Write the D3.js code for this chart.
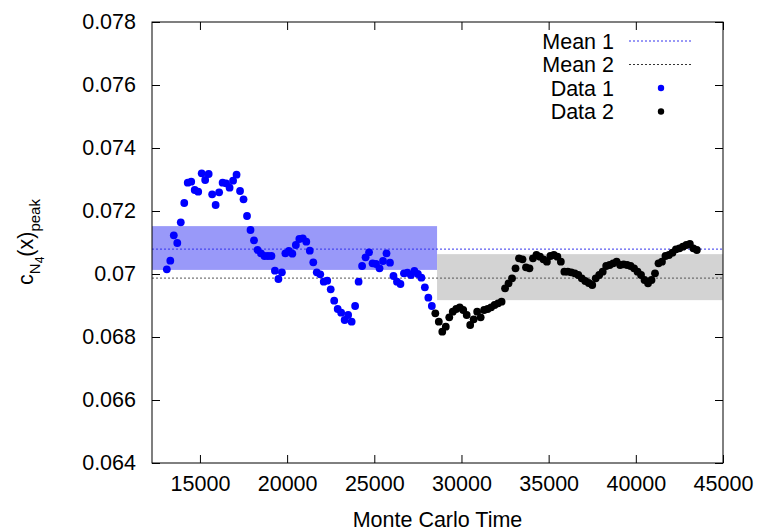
<!DOCTYPE html>
<html>
<head>
<meta charset="utf-8">
<script src="https://cdn.jsdelivr.net/npm/d3@7"></script>
<style>
  body { margin: 0; background: #fff; }
  text { font-family: "Liberation Sans", Arial, sans-serif; fill: #000; }
</style>
</head>
<body>
<svg id="chart" width="761" height="532"></svg>
<script>
// Sampling grid of Monte Carlo time
const start1 = 13100, start2 = 28500, step = 200;

const data1 = [70.149,70.422,71.229,70.984,71.641,72.254,72.898,72.930,72.667,72.613,
  73.197,72.984,73.175,72.530,72.190,72.594,72.898,72.879,72.740,72.962,
  73.152,72.635,72.371,71.841,71.397,71.070,70.762,70.657,70.571,70.571,
  70.571,70.105,69.841,70.054,70.657,70.730,70.644,70.921,71.111,71.133,
  71.025,70.740,70.371,70.054,69.990,69.756,69.787,69.514,69.152,68.889,
  68.771,68.540,68.698,68.486,68.984,69.756,70.254,70.530,70.689,70.340,
  70.317,70.181,70.413,70.657,70.359,69.937,69.756,69.683,70.022,70.041,
  69.968,70.095,70.000,69.883,69.578,69.248,68.984].map(v => v / 1000);

const data2 = [68.752,68.486,68.168,68.327,68.625,68.803,68.889,68.943,68.857,68.698,
  68.381,68.562,68.803,68.625,68.857,68.889,68.943,69.016,69.070,69.121,
  69.546,69.705,69.863,70.181,70.498,70.467,70.213,70.181,70.498,70.603,
  70.549,70.467,70.390,70.571,70.603,70.549,70.390,70.073,70.073,70.054,
  70.022,69.968,69.863,69.778,69.714,69.651,69.863,69.968,70.073,70.254,
  70.286,70.340,70.390,70.286,70.308,70.286,70.254,70.181,70.073,69.968,
  69.810,69.705,69.810,70.022,70.340,70.390,70.571,70.603,70.676,70.784,
  70.816,70.867,70.921,70.952,70.816,70.762].map(v => v / 1000);

const mean1 = 0.07079, mean2 = 0.06987;
const band1 = [0.07013, 0.07152], band2 = [0.06917, 0.07063];
const split = 28600;
const xTicks = [15000, 20000, 25000, 30000, 35000, 40000, 45000];
const yTicks = [0.064, 0.066, 0.068, 0.07, 0.072, 0.074, 0.076, 0.078];

const series1 = data1.map((v, i) => ({ t: start1 + step * i, v }));
const series2 = data2.map((v, i) => ({ t: start2 + step * i, v }));

const margin = { left: 152, right: 38, top: 22, bottom: 69 };
const W = 761, H = 532;
const FS = "21.5px";
const svg = d3.select("#chart");

const x = d3.scaleLinear().domain([12250, 45000]).range([margin.left, W - margin.right]);
const y = d3.scaleLinear().domain([0.064, 0.078]).range([H - margin.bottom, margin.top]);

// bands
svg.append("rect").attr("x", x(12250)).attr("width", x(split) - x(12250))
  .attr("y", y(band1[1])).attr("height", y(band1[0]) - y(band1[1])).attr("fill", "#9999f9");
svg.append("rect").attr("x", x(split)).attr("width", x(45000) - x(split))
  .attr("y", y(band2[1])).attr("height", y(band2[0]) - y(band2[1])).attr("fill", "#d3d3d3");

// mean lines
svg.append("line").attr("x1", x(12250)).attr("x2", x(45000)).attr("y1", y(mean1)).attr("y2", y(mean1))
  .attr("stroke", "#3333ee").attr("stroke-width", 1).attr("stroke-dasharray", "2,2");
svg.append("line").attr("x1", x(12250)).attr("x2", x(45000)).attr("y1", y(mean2)).attr("y2", y(mean2))
  .attr("stroke", "#555").attr("stroke-width", 1).attr("stroke-dasharray", "2,2");

// points
svg.append("g").selectAll("circle").data(series1).enter().append("circle")
  .attr("cx", d => x(d.t)).attr("cy", d => y(d.v)).attr("r", 3.9).attr("fill", "#0000ff");
svg.append("g").selectAll("circle").data(series2).enter().append("circle")
  .attr("cx", d => x(d.t)).attr("cy", d => y(d.v)).attr("r", 3.9).attr("fill", "#000");

// axes (gnuplot style, inward ticks, mirrored)
const fmtY = d3.format("~g");
const axisB = d3.axisBottom(x).tickValues(xTicks).tickSizeInner(-8).tickSizeOuter(0).tickPadding(13).tickFormat(d3.format("d"));
const axisT = d3.axisTop(x).tickValues(xTicks).tickSizeInner(-8).tickSizeOuter(0).tickFormat("");
const axisL = d3.axisLeft(y).tickValues(yTicks).tickSizeInner(-8).tickSizeOuter(0).tickPadding(16).tickFormat(fmtY);
const axisR = d3.axisRight(y).tickValues(yTicks).tickSizeInner(-8).tickSizeOuter(0).tickFormat("");

function style(g) {
  g.select(".domain").remove();
  g.selectAll("line").attr("stroke", "#000");
  g.selectAll("text").style("font-size", FS);
}
svg.append("g").attr("transform", `translate(0,${H - margin.bottom})`).call(axisB).call(style);
svg.append("g").attr("transform", `translate(0,${margin.top})`).call(axisT).call(style);
svg.append("g").attr("transform", `translate(${margin.left},0)`).call(axisL).call(style);
svg.append("g").attr("transform", `translate(${W - margin.right},0)`).call(axisR).call(style);

svg.append("rect").attr("x", margin.left).attr("y", margin.top)
  .attr("width", W - margin.right - margin.left).attr("height", H - margin.bottom - margin.top)
  .attr("fill", "none").attr("stroke", "#000").attr("stroke-width", 1);

// axis labels
svg.append("text").attr("x", (margin.left + W - margin.right) / 2).attr("y", 527)
  .attr("text-anchor", "middle").style("font-size", FS).text("Monte Carlo Time");

const yl = svg.append("text").attr("transform", "translate(33,242) rotate(-90)")
  .attr("text-anchor", "middle").style("font-size", FS);
yl.append("tspan").text("c");
yl.append("tspan").attr("dy", 7).style("font-size", "15px").text("N");
yl.append("tspan").attr("dy", 4).style("font-size", "12px").text("4");
yl.append("tspan").attr("dy", -11).text("(x)");
yl.append("tspan").attr("dy", 7).style("font-size", "15px").text("peak");

// legend
const legend = [
  { label: "Mean 1", type: "line", color: "#3333ee" },
  { label: "Mean 2", type: "line", color: "#333" },
  { label: "Data 1", type: "dot", color: "#0000ff" },
  { label: "Data 2", type: "dot", color: "#000" }
];
const lg = svg.append("g").selectAll("g").data(legend).enter().append("g")
  .attr("transform", (d, i) => `translate(0,${41 + i * 23.5})`);
lg.append("text").attr("x", 614).attr("y", 7.5).attr("text-anchor", "end")
  .style("font-size", FS).text(d => d.label);
lg.filter(d => d.type === "line").append("line").attr("x1", 629).attr("x2", 692)
  .attr("stroke", d => d.color).attr("stroke-dasharray", "2,2");
lg.filter(d => d.type === "dot").append("circle").attr("cx", 661).attr("r", 3.2)
  .attr("fill", d => d.color);
</script>
</body>
</html>
